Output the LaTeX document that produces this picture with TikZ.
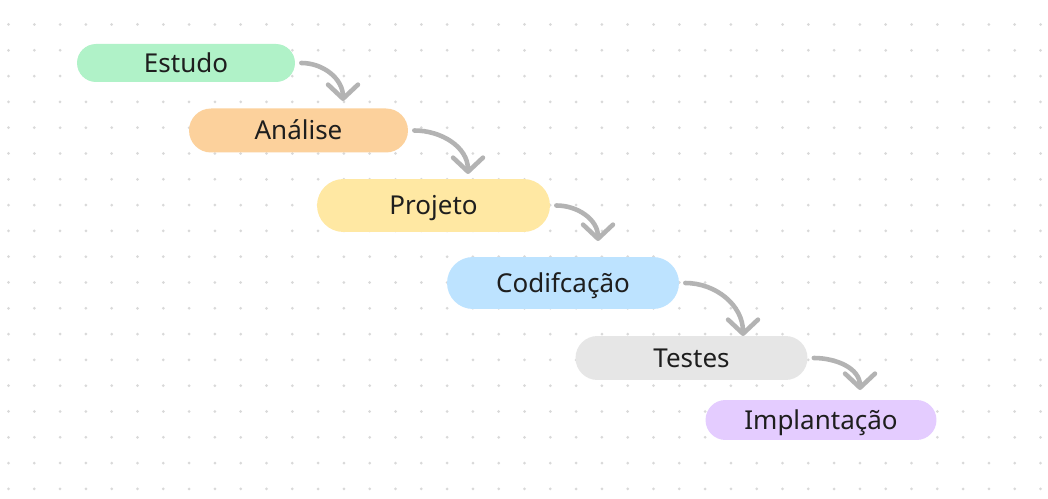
\documentclass[tikz,border=0pt]{standalone}
\usepackage{fontspec}
\setmainfont{Noto Sans}
\usetikzlibrary{arrows.meta,shapes.misc}

\definecolor{verde}{HTML}{B0F2C8}
\definecolor{laranja}{HTML}{FCD19C}
\definecolor{amarelo}{HTML}{FFE8A3}
\definecolor{azul}{HTML}{BDE3FF}
\definecolor{cinza}{HTML}{E6E6E6}
\definecolor{roxo}{HTML}{E4CCFF}
\definecolor{seta}{HTML}{B3B3B3}
\definecolor{ponto}{HTML}{D9D9D9}
\definecolor{texto}{HTML}{1E1E1E}

\begin{document}
\begin{tikzpicture}[x=0.02cm,y=-0.02cm,
  etapa/.style={rounded rectangle,inner sep=0pt,text=texto,
    text height=10.4pt,text depth=0pt,
    font=\fontsize{14.8}{17}\selectfont},
  passo/.style={draw=seta,line width=2.6pt,line cap=round,
    -{Straight Barb[length=8pt,width=17pt,round]}}]

%fundo branco com os pontinhos
\fill[white] (0,0) rectangle (1048,499);
\useasboundingbox (0,0) rectangle (1048,499);
\foreach \i in {0,...,40}
  \foreach \j in {0,...,18}
    \fill[ponto] (8.5+25.8*\i,24.5+25.8*\j) circle(1.5);

%as etapas
\node[etapa,fill=verde,minimum width=4.36cm,minimum height=0.76cm] (estudo) at (186,63) {Estudo};
\node[etapa,fill=laranja,minimum width=4.38cm,minimum height=0.88cm] (analise) at (298.5,130.5) {Análise};
\node[etapa,fill=amarelo,minimum width=4.66cm,minimum height=1.06cm] (projeto) at (433.5,205.5) {Projeto};
\node[etapa,fill=azul,minimum width=4.64cm,minimum height=1.04cm] (codif) at (563,283) {Codifcação};
\node[etapa,fill=cinza,minimum width=4.64cm,minimum height=0.88cm] (testes) at (691.5,358) {Testes};
\node[etapa,fill=roxo,minimum width=4.62cm,minimum height=0.8cm] (implant) at (821,420) {Implantação};

%pontas das setas
\coordinate (p1) at (343,101);
\coordinate (p2) at (468,174);
\coordinate (p3) at (598,241);
\coordinate (p4) at (743,336);
\coordinate (p5) at (860,390);

%setas curvas
\draw[passo] (estudo.east) ++(6,0) to[out=0,in=90] (p1);
\draw[passo] (analise.east) ++(6,0) to[out=0,in=90] (p2);
\draw[passo] (projeto.east) ++(6,0) to[out=0,in=90] (p3);
\draw[passo] (codif.east) ++(6,0) to[out=0,in=90] (p4);
\draw[passo] (testes.east) ++(6,0) to[out=0,in=90] (p5);

\end{tikzpicture}
\end{document}
